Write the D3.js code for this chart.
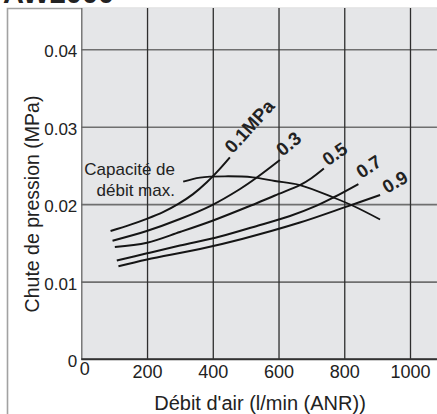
<!DOCTYPE html>
<html>
<head>
<meta charset="utf-8">
<script src="https://cdn.jsdelivr.net/npm/d3@7"></script>
<style>
  body { margin: 0; background: #fff; }
  svg { display: block; }
  text { font-family: "Liberation Sans", Arial, Helvetica, sans-serif; fill: #222; }
</style>
</head>
<body>
<svg id="chart" width="437" height="414"></svg>
<script>
// Pressure drop vs. air flow, one curve per inlet pressure
const pressureLabels = ["0.1MPa", "0.3", "0.5", "0.7", "0.9"];

const flow01 = [89, 150, 199, 250, 294, 340, 381, 420, 452];
const drop01 = [0.01653, 0.01735, 0.0181, 0.019, 0.02, 0.0213, 0.0228, 0.0245, 0.02605];

const flow03 = [95, 199, 300, 395, 483, 534, 604];
const drop03 = [0.01528, 0.01653, 0.01808, 0.01982, 0.02196, 0.02344, 0.0257];

const flow05 = [102, 200, 300, 401, 516, 589, 665, 700, 738];
const drop05 = [0.01446, 0.01502, 0.0164, 0.01789, 0.01982, 0.02112, 0.02245, 0.02335, 0.0246];

const flow07 = [108, 200, 300, 422, 544, 635, 716, 767, 843];
const drop07 = [0.01272, 0.01365, 0.01466, 0.01582, 0.01731, 0.01847, 0.01981, 0.02086, 0.0226];

const flow09 = [113, 200, 361, 489, 665, 812, 909];
const drop09 = [0.01197, 0.01285, 0.0142, 0.0155, 0.01762, 0.01975, 0.02118];

// Maximum flow capacity line
const flowMax = [310, 361, 437, 522, 589, 665, 767, 828, 909];
const dropMax = [0.0229, 0.02344, 0.0236, 0.02347, 0.02299, 0.02247, 0.02086, 0.01976, 0.01802];

const xTicks = [0, 200, 400, 600, 800, 1000];
const yTicks = [0, 0.01, 0.02, 0.03, 0.04];
const yTickLabels = ["0", "0.01", "0.02", "0.03", "0.04"];

const xTitle = "Débit d'air (l/min (ANR))";
const yTitle = "Chute de pression (MPa)";
const maxCapLines = ["Capacité de", "débit max."];

const seriesFlows = [flow01, flow03, flow05, flow07, flow09];
const seriesDrops = [drop01, drop03, drop05, drop07, drop09];

const svg = d3.select("#chart");

const xMax = 1082, yMax = 0.04533;
const x = d3.scaleLinear().domain([0, 1000]).range([81.3, 410]);
const y = d3.scaleLinear().domain([0, 0.04]).range([359, 49.3]);

const plotLeft = x(0), plotRight = x(xMax), plotBottom = y(0), plotTop = y(yMax);

// outer frame
svg.append("path")
  .attr("d", `M7.5,414V8.5H437`)
  .attr("fill", "none").attr("stroke", "#a2a2a2").attr("stroke-width", 1.6);

// heading (mostly above the visible area)
svg.append("text").attr("x", 3).attr("y", 3)
  .attr("font-size", 29).attr("font-weight", "bold").attr("fill", "#111")
  .text("AW2000");

// plot background
svg.append("rect")
  .attr("x", plotLeft).attr("y", plotTop)
  .attr("width", plotRight - plotLeft).attr("height", plotBottom - plotTop)
  .attr("fill", "#e5e6e8");

// horizontal grid + y labels
const yAxis = svg.append("g").attr("transform", `translate(${plotLeft},0)`)
  .call(d3.axisLeft(y).tickValues(yTicks)
    .tickFormat((d, i) => yTickLabels[i])
    .tickSize(-(plotRight - plotLeft)).tickPadding(4));
yAxis.select(".domain").remove();
yAxis.selectAll(".tick line")
  .attr("stroke", (d) => d === 0 ? "#333" : "#6f6f6f")
  .attr("stroke-width", 1.6);
yAxis.selectAll(".tick text")
  .attr("font-size", 17).attr("fill", "#2a2a2a").attr("dy", "0.45em");

// vertical grid + x labels
const xAxis = svg.append("g").attr("transform", `translate(0,${plotBottom})`)
  .call(d3.axisBottom(x).tickValues(xTicks)
    .tickFormat(d3.format("d"))
    .tickSize(-(plotBottom - plotTop)).tickPadding(6));
xAxis.select(".domain").remove();
xAxis.selectAll(".tick line")
  .attr("stroke", (d) => d === 0 ? "#666" : "#2e2e2e")
  .attr("stroke-width", 1.3);
xAxis.selectAll(".tick text")
  .attr("font-size", 18).attr("fill", "#2a2a2a")
  .attr("dx", (d) => d === 0 ? 3 : 0)
  .attr("dy", (d) => d === 0 ? "0.55em" : "0.71em");

// bottom border
svg.append("line")
  .attr("x1", plotLeft).attr("x2", plotRight).attr("y1", plotBottom).attr("y2", plotBottom)
  .attr("stroke", "#333").attr("stroke-width", 1.6);

// axis titles
svg.append("text")
  .attr("x", 260).attr("y", 410)
  .attr("text-anchor", "middle").attr("font-size", 20)
  .text(xTitle);
svg.append("text")
  .attr("transform", "translate(39,204) rotate(-90)")
  .attr("text-anchor", "middle").attr("font-size", 19.5)
  .text(yTitle);

const line = d3.line()
  .x((d) => x(d[0])).y((d) => y(d[1]))
  .curve(d3.curveCatmullRom.alpha(0.5));

// pressure curves
seriesFlows.forEach((fl, i) => {
  const pts = fl.map((f, j) => [f, seriesDrops[i][j]]);
  svg.append("path").attr("d", line(pts))
    .attr("fill", "none").attr("stroke", "#151515").attr("stroke-width", 2);
});

// max capacity curve
svg.append("path")
  .attr("d", line(flowMax.map((f, j) => [f, dropMax[j]])))
  .attr("fill", "none").attr("stroke", "#151515").attr("stroke-width", 1.8);

// curve labels at the end of each curve
const labelOffset = [[3, -3], [3, -3], [4, -2], [3, -5], [7, -1]];
const labelAngle = [-48, -40, -35, -33, -30];
seriesFlows.forEach((fl, i) => {
  const n = fl.length - 1;
  const px = x(fl[n]) + labelOffset[i][0];
  const py = y(seriesDrops[i][n]) + labelOffset[i][1];
  svg.append("text")
    .attr("transform", `translate(${px},${py}) rotate(${labelAngle[i]})`)
    .attr("font-size", 18.5).attr("font-weight", "bold").attr("fill", "#111")
    .text(pressureLabels[i]);
});

// max capacity annotation
svg.selectAll("text.maxcap").data(maxCapLines).enter()
  .append("text").attr("class", "maxcap")
  .attr("x", x(285)).attr("y", (d, i) => y(0.0238) + i * 21.6)
  .attr("text-anchor", "end").attr("font-size", 17)
  .text((d) => d);
</script>
</body>
</html>
